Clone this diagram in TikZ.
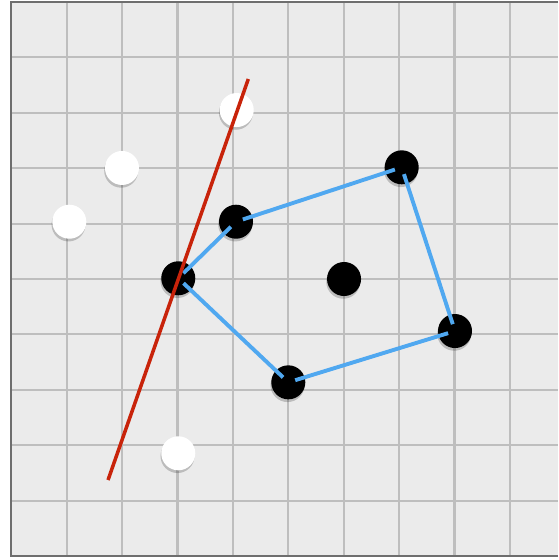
\documentclass[tikz,border=0pt]{standalone}
\usetikzlibrary{shadows}
\definecolor{bgfill}{RGB}{235,235,235}
\definecolor{gridc}{RGB}{190,190,190}
\definecolor{framec}{RGB}{110,110,110}
\definecolor{hullblue}{RGB}{80,168,240}
\definecolor{linered}{RGB}{200,35,10}
\tikzset{
  pt/.style={circle, minimum size=0.614cm, inner sep=0pt, draw=none,
    drop shadow={shadow xshift=-0.4pt, shadow yshift=-1.4pt, opacity=0.2, fill=black}},
  blackpt/.style={pt, fill=black},
  whitept/.style={pt, fill=white},
  hull/.style={draw=hullblue, line width=2pt, shorten <=0.13cm, shorten >=0.13cm},
  redline/.style={draw=linered, line width=1.8pt}
}
\begin{document}
\begin{tikzpicture}
\useasboundingbox (-0.204,-0.072) rectangle (9.868,10.036);
\clip (-0.204,-0.072) rectangle (9.868,10.036);
\fill[white] (-0.204,-0.072) rectangle (9.868,10.036);
\fill[bgfill] (0,0) rectangle (9.868,10);
\draw[gridc, line width=1.1pt] (0,0) grid (9.868,10);
\draw[framec, line width=1.1pt] (9.868,10) -- (0,10) -- (0,0) -- (9.868,0);
% points
\node[blackpt] (b1) at (3.014,5.013) {};
\node[blackpt] (b2) at (4.056,6.034) {};
\node[blackpt] (b3) at (7.047,7.016) {};
\node[blackpt] (b4) at (6.006,5.0) {};
\node[blackpt] (b5) at (8.009,4.061) {};
\node[blackpt] (b6) at (5.0,3.135) {};
\node[whitept] (w1) at (4.069,8.05) {};
\node[whitept] (w2) at (1.998,7.004) {};
\node[whitept] (w3) at (1.047,6.034) {};
\node[whitept] (w4) at (3.014,1.854) {};
% hull
\draw[hull] (b1.center) -- (b2.center);
\draw[hull] (b2.center) -- (b3.center);
\draw[hull] (b3.center) -- (b5.center);
\draw[hull] (b5.center) -- (b6.center);
\draw[hull] (b6.center) -- (b1.center);
% red line
\coordinate (rtop) at (4.278,8.61);
\coordinate (rbot) at (1.746,1.372);
\draw[redline] (rbot) -- (rtop);
\end{tikzpicture}
\end{document}
